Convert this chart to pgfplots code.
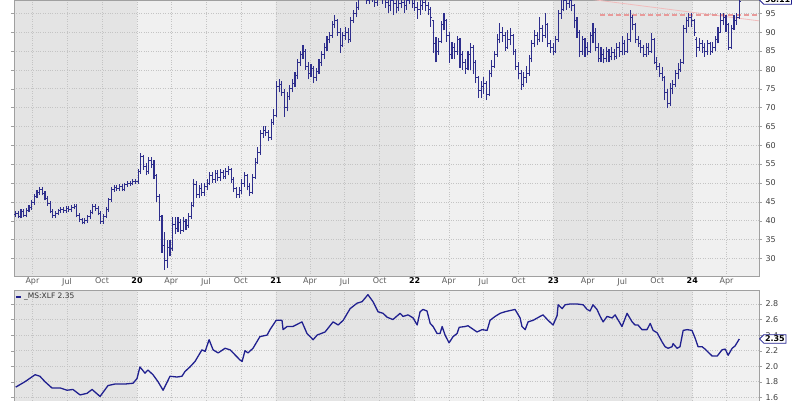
\documentclass[border=0pt]{standalone}
\usepackage{pgfplots}
\pgfplotsset{compat=1.18}
\usepackage{pgfplotstable}
\usepackage{fontspec}
\setmainfont{DejaVu Sans}
\usetikzlibrary{shapes.symbols}
\definecolor{barblue}{HTML}{2E2E8C}
\definecolor{lineblue}{HTML}{20208F}
\definecolor{banddark}{HTML}{E4E4E4}
\definecolor{bandlight}{HTML}{F0F0F0}
\definecolor{gridc}{HTML}{C4C4C4}
\definecolor{framec}{HTML}{A0A0A0}
\definecolor{trend}{HTML}{E89A9A}
\definecolor{trendlight}{HTML}{F2BCBC}

\pgfplotstableread{
w o h l c
0 41.6 42.6 41.0 42.0
1 42.0 42.6 40.6 41.2
2 41.2 43.1 40.6 42.5
3 42.5 43.1 40.9 41.5
4 41.5 43.4 40.9 42.8
5 42.8 44.1 42.2 43.5
6 43.5 45.4 42.9 44.8
7 44.8 47.1 44.2 46.5
8 46.5 48.1 45.9 47.5
9 47.5 48.8 46.9 48.2
10 48.2 48.8 46.7 47.3
11 47.3 47.9 45.4 46.0
12 46.0 46.6 43.9 44.5
13 44.5 45.1 41.9 42.5
14 42.5 43.1 40.7 41.3
15 41.3 42.6 40.7 42.0
16 42.0 43.2 41.4 42.6
17 42.6 43.6 42.0 43.0
18 43.0 43.6 42.1 42.7
19 42.7 43.9 42.1 43.3
20 43.3 43.9 42.4 43.0
21 43.0 44.2 42.4 43.6
22 43.6 44.4 43.0 43.8
23 43.8 44.4 40.9 41.5
24 41.5 42.1 39.6 40.2
25 40.2 40.8 39.0 39.6
26 39.6 40.6 39.0 40.0
27 40.0 41.6 39.4 41.0
28 41.0 42.9 40.4 42.3
29 42.3 44.4 41.7 43.8
30 43.8 44.4 42.6 43.2
31 43.2 43.8 41.4 42.0
32 42.0 42.6 39.2 39.8
33 39.8 41.8 39.2 41.2
34 41.2 43.6 40.6 43.0
35 43.0 46.1 42.4 45.5
36 45.5 48.9 44.9 48.3
37 48.3 49.4 47.7 48.8
38 48.8 49.4 47.9 48.5
39 48.5 49.8 47.9 49.2
40 49.2 49.8 47.8 48.4
41 48.4 50.1 47.8 49.5
42 49.5 50.4 48.9 49.8
43 49.8 50.6 49.2 50.0
44 50.0 51.1 49.4 50.5
45 50.5 51.1 49.7 50.3
46 50.3 53.8 49.8 53.0
47 53.0 58.0 52.5 57.0
48 57.0 57.5 53.5 54.5
49 54.5 55.3 52.0 53.0
50 53.0 57.0 52.5 56.0
51 56.0 57.0 54.0 55.0
52 55.0 56.0 51.0 52.0
53 52.0 52.5 45.0 46.5
54 46.5 47.0 40.0 41.0
55 41.0 41.5 31.5 33.5
56 33.5 37.0 27.0 29.5
57 29.5 35.0 27.5 33.0
58 33.0 35.0 30.5 32.5
59 32.5 41.0 32.0 39.0
60 39.0 41.0 36.5 38.0
61 38.0 41.0 37.0 39.5
62 39.5 40.5 36.5 37.5
63 37.5 41.0 37.0 39.8
64 39.8 40.5 37.5 38.8
65 38.8 42.0 38.0 41.0
66 41.0 45.0 40.5 44.0
67 44.0 51.0 43.5 49.5
68 49.5 50.5 46.0 47.0
69 47.0 49.5 46.0 48.5
70 48.5 50.0 46.5 47.5
71 47.5 50.0 46.5 49.0
72 49.0 51.0 48.0 50.0
73 50.0 53.0 49.5 52.0
74 52.0 53.0 50.0 51.0
75 51.0 53.5 50.0 52.5
76 52.5 53.5 50.5 51.5
77 51.5 53.8 50.5 52.8
78 52.8 53.5 51.0 51.8
79 51.8 54.0 51.0 53.0
80 53.0 54.5 52.0 53.5
81 53.5 54.0 50.0 51.0
82 51.0 51.5 47.5 48.5
83 48.5 49.0 46.0 47.0
84 47.0 49.0 46.0 48.0
85 48.0 51.0 47.0 50.0
86 50.0 53.0 49.0 52.0
87 52.0 52.5 48.0 49.0
88 49.0 50.0 46.5 47.5
89 47.5 52.5 47.0 51.5
90 51.5 56.5 51.0 55.5
91 55.5 59.5 55.0 58.0
92 58.0 64.0 57.5 63.0
93 63.0 65.0 62.0 64.0
94 64.0 65.0 62.5 63.5
95 63.5 64.0 61.0 62.0
96 62.0 67.0 61.5 66.0
97 66.0 69.5 65.5 68.0
98 68.0 77.0 67.5 75.5
99 75.5 77.5 74.0 76.0
100 76.0 77.0 73.0 74.0
101 74.0 75.0 67.5 70.0
102 70.0 74.0 69.0 73.0
103 73.0 76.0 72.0 75.0
104 75.0 77.5 74.0 76.5
105 76.5 79.5 75.5 78.5
106 78.5 83.0 77.5 82.0
107 82.0 85.0 81.0 84.0
108 84.0 86.6 83.0 85.0
109 85.0 85.5 80.0 81.0
110 81.0 82.0 77.5 79.0
111 79.0 81.5 78.0 80.5
112 80.5 81.0 76.5 78.0
113 78.0 80.5 77.0 79.5
114 79.5 83.0 79.0 82.0
115 82.0 85.0 81.0 84.0
116 84.0 87.0 83.0 86.0
117 86.0 89.0 85.0 88.0
118 88.0 90.0 87.0 89.0
119 89.0 93.0 88.5 92.0
120 92.0 94.5 91.0 93.0
121 93.0 93.5 89.0 90.0
122 90.0 91.0 84.5 86.5
123 86.5 90.0 86.0 89.0
124 89.0 91.5 88.0 90.0
125 90.0 91.0 87.0 88.0
126 88.0 94.0 87.5 93.0
127 93.0 96.0 92.5 95.0
128 95.0 98.0 94.0 96.5
129 96.5 100.5 96.0 99.5
130 99.5 102.0 98.5 101.0
131 101.0 102.0 99.0 100.0
132 100.0 101.0 97.5 98.5
133 98.5 100.5 97.5 99.5
134 99.5 100.5 98.0 99.0
135 99.0 100.0 96.8 98.0
136 98.0 100.5 97.0 99.5
137 99.5 101.5 98.5 100.5
138 100.5 101.0 97.5 99.0
139 99.0 100.0 96.5 98.0
140 98.0 99.0 95.0 97.0
141 97.0 99.5 95.5 98.5
142 98.5 99.5 94.5 97.5
143 97.5 98.5 95.0 96.5
144 96.5 98.5 95.5 97.5
145 97.5 99.5 96.5 98.0
146 98.0 99.0 95.0 97.0
147 97.0 99.5 96.0 98.5
148 98.5 100.5 97.5 99.0
149 99.0 100.0 96.5 97.5
150 97.5 98.5 95.5 96.5
151 96.5 98.0 93.5 96.0
152 96.0 99.0 94.5 97.0
153 97.0 99.5 96.0 98.0
154 98.0 99.0 95.5 97.0
155 97.0 98.0 94.5 96.0
156 96.0 96.7 91.5 94.0
157 93.0 93.2 84.5 87.0
158 87.0 88.7 82.0 85.0
159 85.0 88.5 84.0 87.5
160 87.5 93.0 87.0 92.0
161 92.0 95.0 90.5 93.0
162 93.0 93.5 87.5 89.0
163 89.0 90.0 81.7 84.0
164 84.0 87.5 83.0 86.0
165 86.0 87.0 83.0 85.0
166 85.0 89.0 84.0 88.0
167 88.0 88.5 80.5 84.0
168 84.0 85.0 80.0 82.0
169 82.0 83.0 79.0 80.5
170 80.5 85.0 80.0 84.0
171 84.0 87.0 80.0 86.0
172 86.0 86.5 79.0 82.0
173 82.0 82.5 76.5 78.0
174 78.0 78.5 72.5 74.5
175 74.5 77.0 72.5 75.5
176 75.5 78.0 73.5 76.5
177 76.5 77.0 72.0 73.5
178 73.5 80.0 73.0 79.0
179 79.0 82.5 78.0 81.0
180 81.0 85.0 80.5 84.0
181 84.0 89.5 83.5 88.0
182 88.0 92.4 87.0 90.0
183 90.0 91.5 87.5 89.0
184 89.0 90.0 85.0 86.0
185 86.0 90.5 85.5 88.0
186 88.0 91.0 86.5 89.0
187 89.0 89.5 84.0 85.0
188 85.0 85.5 80.0 81.0
189 81.0 82.0 77.5 79.0
190 79.0 80.0 74.7 76.0
191 76.0 79.5 75.5 78.0
192 78.0 81.0 76.5 79.0
193 79.0 84.0 78.5 83.0
194 83.0 88.0 82.0 87.0
195 87.0 90.5 86.0 89.0
196 89.0 90.0 86.5 88.0
197 88.0 94.0 87.5 91.0
198 91.0 92.0 87.5 89.0
199 89.0 95.0 88.5 92.0
200 92.0 92.5 86.0 87.0
201 87.0 88.0 84.5 86.0
202 86.0 87.0 84.0 85.0
203 85.0 89.0 84.5 88.0
204 88.0 96.0 87.5 95.0
205 95.0 98.5 93.5 96.0
206 96.0 100.5 95.5 98.5
207 98.5 100.0 96.0 97.5
208 97.5 100.5 96.5 98.5
209 98.5 99.5 95.5 97.0
210 97.0 97.5 91.0 93.0
211 93.0 94.0 88.5 90.0
212 90.0 90.6 83.4 85.0
213 85.0 89.0 84.0 88.0
214 88.0 88.5 83.5 86.0
215 86.0 87.5 84.0 85.0
216 85.0 90.0 84.5 89.0
217 89.0 92.4 87.0 90.0
218 90.0 91.0 85.0 86.0
219 86.0 87.0 82.0 83.0
220 83.0 86.0 82.0 84.0
221 84.0 85.5 81.7 83.0
222 83.0 86.0 82.0 85.0
223 85.0 85.5 82.0 83.5
224 83.5 86.0 82.5 84.5
225 84.5 85.5 82.5 83.5
226 83.5 87.0 83.0 86.0
227 86.0 87.5 83.5 85.0
228 85.0 89.0 84.0 87.0
229 87.0 88.0 84.0 85.0
230 85.0 89.8 84.5 88.0
231 88.0 95.9 87.5 94.0
232 94.0 94.5 90.5 92.0
233 92.0 92.5 87.0 88.0
234 88.0 89.0 86.0 87.0
235 87.0 88.0 84.5 86.0
236 86.0 86.5 83.4 84.0
237 84.0 87.0 83.5 86.0
238 86.0 87.0 84.0 85.0
239 85.0 89.8 84.5 88.0
240 88.0 88.5 81.5 82.0
241 82.0 83.4 80.0 81.0
242 81.0 81.7 78.0 79.0
243 79.0 80.8 77.0 78.0
244 78.0 78.5 72.0 74.0
245 74.0 75.0 69.8 71.0
246 71.0 76.5 70.5 75.0
247 75.0 77.3 73.5 76.0
248 76.0 80.0 75.5 79.0
249 79.0 81.7 77.5 80.0
250 80.0 83.0 79.5 82.0
251 82.0 92.0 81.5 91.0
252 91.0 94.0 89.8 93.0
253 93.0 95.0 91.5 94.0
254 94.0 95.0 91.5 93.0
255 93.0 93.5 89.0 90.0
256 88.0 88.7 83.4 86.0
257 86.0 88.5 85.0 87.0
258 87.0 88.0 84.5 86.0
259 86.0 87.0 83.5 85.0
260 85.0 88.0 84.0 87.0
261 87.0 87.5 84.0 85.0
262 85.0 87.5 84.5 86.0
263 86.0 89.0 85.0 88.0
264 88.0 91.5 87.0 90.0
265 90.0 95.0 89.8 93.0
266 93.0 95.0 92.0 94.0
267 94.0 94.5 90.0 92.0
268 92.0 92.5 85.3 86.0
269 86.0 92.0 85.5 91.0
270 91.0 94.5 90.6 93.0
271 93.0 95.0 92.0 94.0
272 94.0 99.5 93.4 98.11
}\ohlc

\pgfplotsset{
  panelgeom/.style={
    scale only axis, width=745pt,
    xmin=-0.64, xmax=279.4,
  },
  bgpanel/.style={panelgeom, hide axis},
  chartbase/.style={
    panelgeom,
    axis line style={framec},
    grid=major, grid style={gridc, dotted, line width=0.6pt},
    xtick={6.29,19.3,32.45,45.6,58.47,71.48,84.63,97.78,110.65,123.66,136.81,149.96,162.83,175.84,188.99,202.14,215.01,228.02,241.17,254.32,267.19},
    xtick style={draw=none},
    ytick style={framec},
    ytick align=outside, major tick length=3pt,
    yticklabel pos=right,
    tick label style={font=\fontsize{8}{9}\selectfont, text=black!75},
    /pgf/number format/assume math mode=true,
  },
}

\begin{document}
\begin{tikzpicture}
\path[use as bounding box] (0pt,0pt) rectangle (800pt,400pt);

% ---------- price panel: background bands ----------
\begin{axis}[bgpanel, at={(14pt,124pt)}, anchor=south west, height=276pt, ymin=25.32, ymax=98.53]
\addplot[draw=none, fill=bandlight] coordinates {(-0.64,25.32) (279.4,25.32) (279.4,98.53) (-0.64,98.53) (-0.64,25.32)};
\addplot[draw=none, fill=banddark] coordinates {(-0.64,25.32) (45.6,25.32) (45.6,98.53) (-0.64,98.53) (-0.64,25.32)};
\addplot[draw=none, fill=banddark] coordinates {(97.78,25.32) (149.96,25.32) (149.96,98.53) (97.78,98.53) (97.78,25.32)};
\addplot[draw=none, fill=banddark] coordinates {(202.14,25.32) (254.32,25.32) (254.32,98.53) (202.14,98.53) (202.14,25.32)};
\end{axis}

% ---------- price panel ----------
\begin{axis}[chartbase,
  at={(14pt,124pt)}, anchor=south west, height=276pt,
  ymin=25.32, ymax=98.53,
  ytick={30,35,40,45,50,55,60,65,70,75,80,85,90,95},
  xticklabels={Apr,Jul,Oct,\textbf{\textcolor{black}{20}},Apr,Jul,Oct,\textbf{\textcolor{black}{21}},Apr,Jul,Oct,\textbf{\textcolor{black}{22}},Apr,Jul,Oct,\textbf{\textcolor{black}{23}},Apr,Jul,Oct,\textbf{\textcolor{black}{24}},Apr},
  xticklabel style={text=black!65, yshift=1.5pt},
]
\addplot[trendlight, line width=0.8pt] coordinates {(200,100.17) (279.4,93.0)};
\addplot[trend, line width=1.4pt, dash pattern=on 5pt off 3pt] coordinates {(219.7,94.5) (279.4,94.5)};

\addplot[barblue, line width=1.1pt, mark=none, quiver={u=0, v=\thisrow{h}-\thisrow{l}}] table[x=w, y=l] {\ohlc};
\addplot[barblue, line width=0.9pt, mark=none, quiver={u=-0.6, v=0}] table[x=w, y=o] {\ohlc};
\addplot[barblue, line width=0.9pt, mark=none, quiver={u=0.6, v=0}] table[x=w, y=c] {\ohlc};

\coordinate (tagtop) at (axis cs:279.4,98.11);
\end{axis}
\node[signal, signal to=west, draw=lineblue, fill=white, line width=0.8pt, inner sep=1.2pt, anchor=west, font=\fontsize{8}{9}\selectfont\bfseries, yshift=1.5pt] at (tagtop) {98.11};

% ---------- ratio panel: background bands ----------
\begin{axis}[bgpanel, at={(14pt,-5pt)}, anchor=south west, height=115pt, ymin=1.50, ymax=2.98]
\addplot[draw=none, fill=bandlight] coordinates {(-0.64,1.5) (279.4,1.5) (279.4,2.98) (-0.64,2.98) (-0.64,1.5)};
\addplot[draw=none, fill=banddark] coordinates {(-0.64,1.5) (45.6,1.5) (45.6,2.98) (-0.64,2.98) (-0.64,1.5)};
\addplot[draw=none, fill=banddark] coordinates {(97.78,1.5) (149.96,1.5) (149.96,2.98) (97.78,2.98) (97.78,1.5)};
\addplot[draw=none, fill=banddark] coordinates {(202.14,1.5) (254.32,1.5) (254.32,2.98) (202.14,2.98) (202.14,1.5)};
\end{axis}

% ---------- ratio panel ----------
\begin{axis}[chartbase,
  at={(14pt,-5pt)}, anchor=south west, height=115pt,
  ymin=1.50, ymax=2.98,
  ytick={1.6,1.8,2.0,2.2,2.4,2.6,2.8},
  yticklabel style={/pgf/number format/.cd, fixed, fixed zerofill, precision=1},
  xticklabels={},
  legend style={at={(rel axis cs:0,1)}, anchor=north west, draw=none, fill=none, inner sep=1pt,
    font=\fontsize{7.5}{8.5}\selectfont, text=black!80},
  legend image code/.code={\draw[lineblue, line width=2pt] (0pt,0pt) -- (5pt,0pt);},
]
\addplot[lineblue, line width=1.3pt, mark=none, line join=round] coordinates {
(0,1.73)(3.5,1.80)(7.3,1.89)(9.1,1.87)(11.0,1.80)(13.6,1.72)(16.7,1.72)(19.3,1.69)(21.5,1.70)(24.2,1.63)(26.8,1.65)(28.7,1.70)(31.7,1.61)(34.7,1.75)(37.3,1.77)(41.1,1.77)(44.1,1.78)(45.6,1.84)(46.7,1.99)(48.6,1.91)(49.7,1.95)(51.6,1.89)(53.5,1.80)(55.4,1.69)(58.0,1.87)(60.6,1.86)(62.5,1.87)(63.6,1.93)(65.5,1.99)(67.4,2.06)(70.0,2.21)(71.2,2.19)(72.7,2.34)(74.2,2.21)(76.1,2.17)(78.7,2.23)(80.6,2.21)(84.3,2.08)(85.1,2.06)(86.2,2.20)(87.3,2.17)(89.2,2.23)(91.8,2.38)(94.5,2.40)(95.6,2.47)(97.9,2.59)(100.1,2.59)(100.5,2.47)(102.0,2.51)(104.2,2.51)(107.6,2.57)(109.5,2.42)(111.8,2.34)(113.3,2.40)(116.3,2.44)(119.3,2.57)(121.2,2.53)(123.1,2.59)(125.7,2.74)(128.3,2.81)(130.2,2.83)(132.4,2.92)(134.3,2.83)(136.2,2.70)(138.1,2.68)(139.6,2.63)(141.8,2.60)(144.5,2.68)(145.6,2.64)(147.5,2.66)(149.4,2.62)(150.9,2.53)(152.0,2.70)(153.1,2.73)(154.6,2.71)(155.8,2.55)(156.9,2.51)(158.4,2.42)(159.5,2.42)(160.3,2.51)(161.4,2.40)(162.9,2.30)(164.4,2.38)(165.9,2.42)(166.7,2.50)(168.9,2.51)(170.0,2.52)(173.4,2.44)(175.3,2.47)(177.2,2.46)(178.3,2.59)(180.2,2.64)(182.1,2.68)(183.9,2.70)(185.1,2.71)(187.7,2.73)(189.6,2.62)(190.3,2.51)(191.5,2.47)(192.6,2.57)(194.5,2.59)(197.1,2.64)(198.2,2.66)(200.1,2.59)(202.0,2.53)(203.5,2.65)(203.9,2.79)(205.4,2.74)(206.5,2.79)(208.4,2.80)(211.0,2.80)(213.3,2.79)(214.8,2.73)(215.9,2.71)(217.0,2.79)(218.5,2.73)(219.7,2.64)(220.8,2.57)(222.3,2.64)(224.2,2.62)(225.3,2.66)(227.9,2.51)(229.8,2.68)(231.7,2.57)(232.8,2.53)(233.9,2.53)(235.4,2.47)(237.3,2.47)(238.5,2.55)(239.6,2.46)(241.1,2.43)(243.0,2.31)(244.1,2.25)(245.2,2.23)(246.7,2.25)(247.1,2.29)(248.6,2.23)(249.7,2.25)(250.9,2.46)(252.4,2.47)(254.2,2.46)(255.4,2.36)(256.5,2.25)(258.0,2.25)(259.1,2.22)(261.8,2.13)(263.7,2.13)(265.5,2.21)(266.7,2.22)(267.8,2.14)(269.3,2.23)(270.4,2.26)(272.0,2.35)
};
\addlegendentry{\_MS:XLF 2.35}
\coordinate (tagbot) at (axis cs:279.4,2.35);
\end{axis}
\node[signal, signal to=west, draw=lineblue, fill=white, line width=0.8pt, inner sep=1.2pt, anchor=west, font=\fontsize{8}{9}\selectfont\bfseries] at (tagbot) {2.35};
\end{tikzpicture}
\end{document}
